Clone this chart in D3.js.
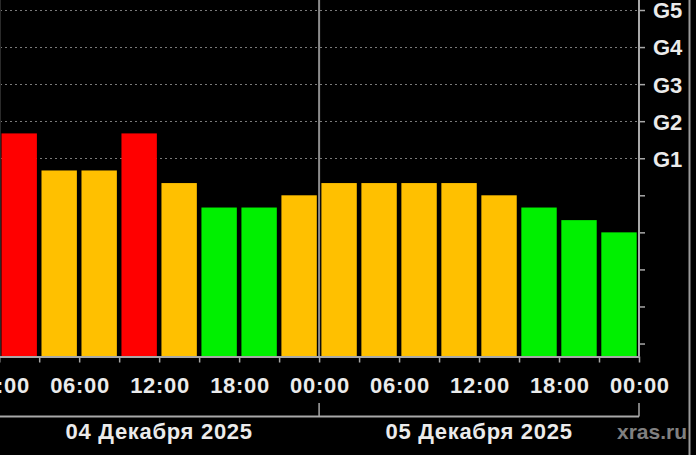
<!DOCTYPE html>
<html>
<head>
<meta charset="utf-8">
<script src="https://cdn.jsdelivr.net/npm/d3@7"></script>
<style>
  html, body { margin: 0; padding: 0; background: #000; }
  svg { display: block; }
  text { font-family: "Liberation Sans", Arial, sans-serif; font-weight: bold; }
</style>
</head>
<body>
<svg id="chart" width="696" height="455"></svg>
<script>
// ---- Data ----
const intervalStarts = [
  "2025-12-04T00:00Z","2025-12-04T03:00Z","2025-12-04T06:00Z","2025-12-04T09:00Z",
  "2025-12-04T12:00Z","2025-12-04T15:00Z","2025-12-04T18:00Z","2025-12-04T21:00Z",
  "2025-12-05T00:00Z","2025-12-05T03:00Z","2025-12-05T06:00Z","2025-12-05T09:00Z",
  "2025-12-05T12:00Z","2025-12-05T15:00Z","2025-12-05T18:00Z","2025-12-05T21:00Z"
];
const kpValues = [5.67, 4.67, 4.67, 5.67, 4.33, 3.67, 3.67, 4.0,
                  4.33, 4.33, 4.33, 4.33, 4.0, 3.67, 3.33, 3.0];
const kpTicks = [0,1,2,3,4,5,6,7,8,9];
const gLabels = {5:"G1", 6:"G2", 7:"G3", 8:"G4", 9:"G5"};
const dayStarts = ["2025-12-04T00:00Z","2025-12-05T00:00Z","2025-12-06T00:00Z"];
const dayLabels = ["04 Декабря 2025", "05 Декабря 2025"];
const watermark = "xras.ru";

// ---- Layout ----
const svg = d3.select("#chart");
svg.append("rect").attr("width",696).attr("height",455).attr("fill","#000");

const parse = d => new Date(d);
const x = d3.scaleUtc()
  .domain([parse(dayStarts[0]), parse(dayStarts[2])])
  .range([-0.8, 639]);
const y = d3.scaleLinear().domain([-0.35, 9.27]).range([356.5, 0]);
const plotRight = 639, baseY = y(-0.35);

const colorFor = v => v >= 5 ? "#ff0000" : (v >= 4 ? "#ffc000" : "#00f000");
const gridCol = "#7a7a7a", axisCol = "#a8a8a8", textCol = "#ebebeb";
const fs = 22, ls = "0.7px";

// gridlines at G levels
svg.append("g").selectAll("line")
  .data(kpTicks.filter(k => gLabels[k]))
  .join("line")
  .attr("x1", 0).attr("x2", plotRight)
  .attr("y1", d => Math.round(y(d)) + 0.5).attr("y2", d => Math.round(y(d)) + 0.5)
  .attr("stroke", gridCol).attr("stroke-width", 1).attr("stroke-dasharray", "2,3");

// faint left border
svg.append("line").attr("x1",0.5).attr("x2",0.5).attr("y1",0).attr("y2",baseY)
  .attr("stroke","#2a2a2a").attr("stroke-width",1);

// bars
const inset = 2.3;
svg.append("g").selectAll("rect")
  .data(intervalStarts.map((s,i) => ({t: parse(s), v: kpValues[i]})))
  .join("rect")
  .attr("x", d => x(d.t) + inset)
  .attr("width", d => x(d3.utcHour.offset(d.t, 3)) - x(d.t) - 2*inset)
  .attr("y", d => y(d.v))
  .attr("height", d => baseY - y(d.v))
  .attr("fill", d => colorFor(d.v));

// day separator line in plot
svg.append("g").selectAll("line")
  .data([dayStarts[1]])
  .join("line")
  .attr("x1", d => x(parse(d))).attr("x2", d => x(parse(d)))
  .attr("y1", 0).attr("y2", baseY)
  .attr("stroke", "#8c8c8c").attr("stroke-width", 2);

// bottom axis
const xAxis = d3.axisBottom(x)
  .tickValues(d3.utcHour.range(parse(dayStarts[0]), d3.utcHour.offset(parse(dayStarts[2]),1), 3))
  .tickSize(6).tickSizeOuter(0)
  .tickFormat(d => d.getUTCHours() % 6 === 0 ? d3.utcFormat("%H:%M")(d) : "");
const gx = svg.append("g").attr("transform", `translate(0,${baseY})`).call(xAxis);
gx.select(".domain").attr("stroke", axisCol).attr("stroke-width", 2);
gx.selectAll(".tick line").attr("stroke", axisCol).attr("stroke-width", 1.5);
gx.selectAll(".tick text").attr("fill", textCol).attr("font-size", fs)
  .style("letter-spacing", ls)
  .attr("y", 0).attr("dy", 0).attr("transform", "translate(0.4,36)");

// right axis
const yAxis = d3.axisRight(y).tickValues(kpTicks).tickSize(6).tickSizeOuter(0)
  .tickFormat(d => gLabels[d] || "");
const gy = svg.append("g").attr("transform", `translate(${plotRight},0)`).call(yAxis);
gy.select(".domain").attr("stroke", axisCol).attr("stroke-width", 2)
  .attr("d", `M0,0V${baseY}`);
gy.selectAll(".tick line").attr("stroke", axisCol).attr("stroke-width", 1.5);
gy.selectAll(".tick text").attr("fill", textCol).attr("font-size", fs)
  .attr("x", 14).attr("dy", "0.36em");

// date bracket
const bracketY = 416.5;
svg.append("line").attr("x1", 0).attr("x2", plotRight)
  .attr("y1", bracketY).attr("y2", bracketY)
  .attr("stroke", axisCol).attr("stroke-width", 2);
svg.append("g").selectAll("line")
  .data(dayStarts)
  .join("line")
  .attr("x1", d => x(parse(d))).attr("x2", d => x(parse(d)))
  .attr("y1", 403).attr("y2", bracketY)
  .attr("stroke", axisCol).attr("stroke-width", 1.5);

svg.append("g").selectAll("text")
  .data(dayLabels)
  .join("text")
  .attr("x", (d,i) => (x(parse(dayStarts[i])) + x(parse(dayStarts[i+1]))) / 2)
  .attr("y", 438.5)
  .attr("text-anchor", "middle")
  .attr("fill", textCol).attr("font-size", fs)
  .style("letter-spacing", ls)
  .text(d => d);

svg.append("text").attr("x", 687).attr("y", 438.5).attr("text-anchor", "end")
  .attr("fill", "#808080").attr("font-size", 21).text(watermark);

// right border
svg.append("line").attr("x1", 689.5).attr("x2", 689.5).attr("y1", 0).attr("y2", 455)
  .attr("stroke", "#9a9a9a").attr("stroke-width", 2);
</script>
</body>
</html>
